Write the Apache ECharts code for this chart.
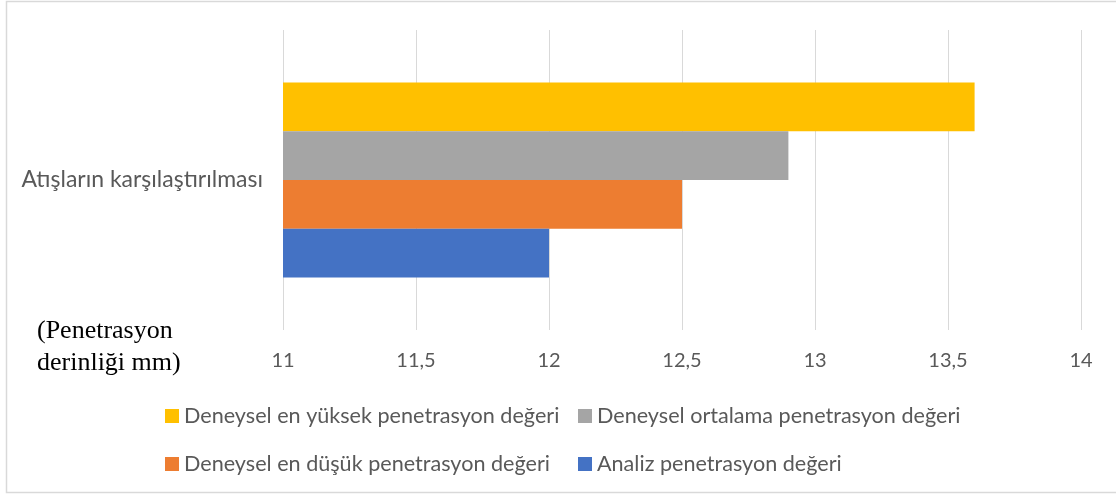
<!DOCTYPE html>
<html>
<head>
<meta charset="utf-8">
<script src="https://cdn.jsdelivr.net/npm/echarts@6/dist/echarts.min.js"></script>
<style>
  html, body { margin: 0; padding: 0; background: #ffffff; }
  #chart { width: 1116px; height: 495px; }
</style>
</head>
<body>
<div id="chart"></div>
<script>
// Category and series data (listed top bar first)
const categories = ['Atışların karşılaştırılması'];
const seriesNames = [
  'Deneysel en yüksek penetrasyon değeri',
  'Deneysel ortalama penetrasyon değeri',
  'Deneysel en düşük penetrasyon değeri',
  'Analiz penetrasyon değeri'
];
const enYuksekValues = [13.6];
const ortalamaValues = [12.9];
const enDusukValues = [12.5];
const analizValues = [12.0];
const seriesColors = ['#FFC000', '#A5A5A5', '#ED7D31', '#4472C4'];
const axisTitle = '(Penetrasyon\nderinliği mm)';

const seriesValues = [enYuksekValues, ortalamaValues, enDusukValues, analizValues];

const labelFont = 'Lato, "Open Sans", sans-serif';
const textColor = '#595959';

const chart = echarts.init(document.getElementById('chart'), null, { renderer: 'canvas' });

const legendText = { fontFamily: labelFont, fontSize: 21.6, color: textColor };

chart.setOption({
  backgroundColor: '#ffffff',
  animation: false,
  grid: { left: 283, right: 35, top: 30, bottom: 165 },
  xAxis: {
    type: 'value',
    min: 11,
    max: 14,
    interval: 0.5,
    axisLine: { show: false },
    axisTick: { show: false },
    splitLine: { show: true, lineStyle: { color: '#d9d9d9', width: 1 } },
    axisLabel: {
      margin: 21,
      fontFamily: labelFont,
      fontSize: 20,
      color: textColor,
      formatter: v => String(v).replace('.', ',')
    }
  },
  yAxis: {
    type: 'category',
    data: categories,
    axisLine: { show: false },
    axisTick: { show: false },
    axisLabel: {
      margin: 20,
      fontFamily: labelFont,
      fontSize: 23,
      color: textColor
    }
  },
  legend: [
    {
      orient: 'vertical',
      left: 160,
      top: 400,
      itemGap: 26,
      itemWidth: 14,
      itemHeight: 14,
      icon: 'rect',
      textStyle: legendText,
      data: [seriesNames[0], seriesNames[2]]
    },
    {
      orient: 'vertical',
      left: 573,
      top: 400,
      itemGap: 26,
      itemWidth: 14,
      itemHeight: 14,
      icon: 'rect',
      textStyle: legendText,
      data: [seriesNames[1], seriesNames[3]]
    }
  ],
  series: seriesNames.map((name, i) => ({
    name,
    type: 'bar',
    data: seriesValues[i],
    barGap: '0%',
    barCategoryGap: '35%',
    itemStyle: { color: seriesColors[i] }
  })),
  graphic: [
    {
      type: 'rect',
      silent: true,
      shape: { x: 6.5, y: 1.5, width: 1130, height: 491 },
      style: { fill: 'none', stroke: '#d9d9d9', lineWidth: 1.5 }
    },
    {
      type: 'text',
      left: 37,
      top: 315,
      style: {
        text: axisTitle,
        font: '26px "Liberation Serif", "DejaVu Serif", serif',
        fill: '#000000',
        lineHeight: 32
      }
    }
  ]
});
</script>
</body>
</html>
